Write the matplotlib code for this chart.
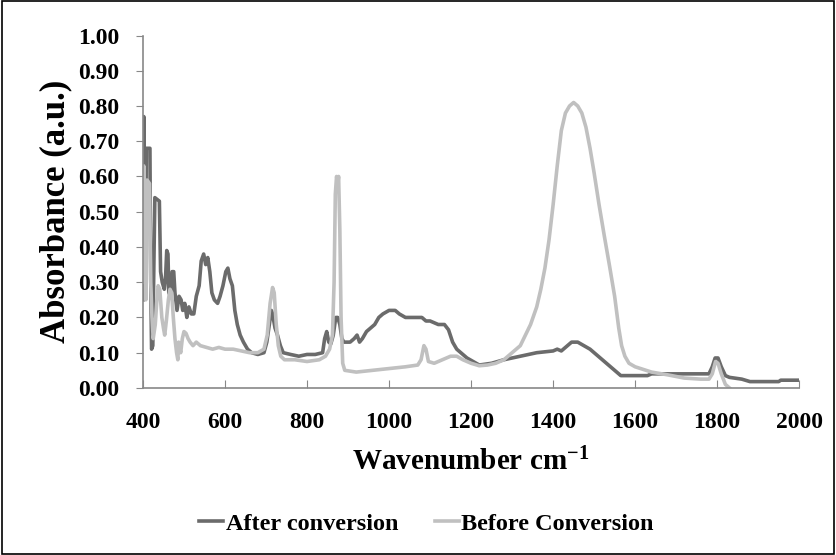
import matplotlib
matplotlib.use("Agg")
import matplotlib.pyplot as plt
import matplotlib.patches as patches

plt.rcParams['font.family'] = 'Liberation Serif'
plt.rcParams['font.weight'] = 'bold'
plt.rcParams['mathtext.fontset'] = 'custom'
plt.rcParams['mathtext.rm'] = 'Liberation Serif:bold'
plt.rcParams['mathtext.it'] = 'Liberation Serif:bold'
plt.rcParams['mathtext.bf'] = 'Liberation Serif:bold'

# FTIR spectrum after conversion (dark line)
after_x = [400, 401, 402, 404, 406, 407, 408, 417, 419, 421, 424, 426, 429, 440, 443,
           447, 452, 455, 458, 461, 463, 468, 471, 475, 478, 483, 488, 493, 497, 502,
           507, 512, 518, 524, 530, 537, 542, 548, 553, 558, 563, 568, 574, 582, 588,
           595, 602, 607, 612, 618, 624, 630, 637, 645, 655, 665, 680, 695, 702, 708,
           713, 716, 722, 728, 735, 742, 760, 780, 800, 820, 838, 843, 848, 853, 858,
           864, 870, 875, 880, 885, 890, 905, 915, 922, 928, 935, 945, 955, 965, 975,
           985, 1000, 1015, 1025, 1040, 1055, 1070, 1080, 1090, 1100, 1110, 1120, 1135,
           1145, 1155, 1165, 1175, 1190, 1205, 1220, 1250, 1280, 1320, 1360, 1400, 1410,
           1420, 1430, 1445, 1460, 1475, 1490, 1510, 1530, 1550, 1565, 1580, 1630, 1640,
           1700, 1780, 1788, 1795, 1802, 1810, 1820, 1830, 1860, 1880, 1950, 1955, 2000]
after_y = [0.25, 0.32, 0.77, 0.55, 0.30, 0.26, 0.68, 0.68, 0.30, 0.11, 0.12, 0.30, 0.54, 0.53, 0.33,
           0.30, 0.28, 0.31, 0.39, 0.38, 0.27, 0.26, 0.33, 0.33, 0.27, 0.22, 0.26, 0.25, 0.22, 0.24,
           0.20, 0.23, 0.21, 0.21, 0.26, 0.29, 0.36, 0.38, 0.35, 0.37, 0.33, 0.27, 0.25, 0.24, 0.26,
           0.29, 0.33, 0.34, 0.31, 0.29, 0.22, 0.18, 0.15, 0.13, 0.11, 0.10, 0.095, 0.10, 0.13, 0.18,
           0.22, 0.21, 0.17, 0.15, 0.12, 0.10, 0.095, 0.09, 0.095, 0.095, 0.10, 0.14, 0.16, 0.13, 0.125,
           0.15, 0.20, 0.20, 0.18, 0.14, 0.13, 0.13, 0.14, 0.15, 0.13, 0.14, 0.16, 0.17, 0.18, 0.20,
           0.21, 0.22, 0.22, 0.21, 0.20, 0.20, 0.20, 0.20, 0.19, 0.19, 0.185, 0.18, 0.18,
           0.165, 0.13, 0.11, 0.10, 0.085, 0.075, 0.065, 0.07, 0.08, 0.09, 0.10, 0.105, 0.11,
           0.105, 0.115, 0.13, 0.13, 0.12, 0.11, 0.09, 0.07, 0.05, 0.035, 0.035, 0.035, 0.04,
           0.04, 0.04, 0.06, 0.085, 0.085, 0.06, 0.035, 0.03, 0.025, 0.018, 0.018, 0.022, 0.022]

# FTIR spectrum before conversion (light line)
before_x = [400, 402, 405, 407, 410, 416, 419, 422, 425, 430, 434, 437, 441, 446, 450,
            453, 457, 462, 466, 470, 474, 478, 482, 485, 487, 492, 496, 500, 505, 510,
            515, 522, 530, 540, 555, 570, 585, 600, 620, 640, 660, 680, 695, 703, 710,
            716, 720, 725, 730, 736, 745, 770, 800, 830, 845, 855, 862, 866, 869, 872,
            875, 877, 880, 883, 887, 892, 920, 960, 1000, 1040, 1070, 1078, 1085, 1090,
            1096, 1110, 1130, 1150, 1165, 1180, 1200, 1220, 1240, 1260, 1280, 1300, 1320,
            1345, 1360, 1370, 1380, 1390, 1400, 1410, 1420, 1430, 1440, 1450, 1460, 1470,
            1480, 1490, 1500, 1512, 1525, 1537, 1550, 1560, 1567, 1575, 1585, 1600, 1640,
            1680, 1720, 1760, 1780, 1788, 1796, 1802, 1810, 1820, 1830]
before_y = [0.30, 0.63, 0.40, 0.25, 0.59, 0.58, 0.30, 0.20, 0.14, 0.18, 0.25, 0.29, 0.28, 0.20, 0.17,
            0.15, 0.19, 0.25, 0.28, 0.27, 0.20, 0.14, 0.10, 0.08, 0.13, 0.10, 0.14, 0.16, 0.155, 0.14,
            0.13, 0.12, 0.13, 0.12, 0.115, 0.11, 0.115, 0.11, 0.11, 0.105, 0.10, 0.10, 0.11, 0.15, 0.24,
            0.285, 0.27, 0.18, 0.12, 0.09, 0.08, 0.08, 0.075, 0.08, 0.09, 0.11, 0.15, 0.30, 0.55, 0.60,
            0.58, 0.60, 0.45, 0.20, 0.07, 0.05, 0.045, 0.05, 0.055, 0.06, 0.065, 0.08, 0.12, 0.11,
            0.075, 0.07, 0.08, 0.09, 0.09, 0.08, 0.07, 0.063, 0.065, 0.07, 0.08, 0.10, 0.12,
            0.18, 0.23, 0.28, 0.34, 0.42, 0.52, 0.63, 0.73, 0.78, 0.80, 0.81, 0.80, 0.78,
            0.74, 0.68, 0.61, 0.52, 0.43, 0.35, 0.26, 0.17, 0.12, 0.09, 0.07, 0.06, 0.045,
            0.037, 0.028, 0.025, 0.025, 0.04, 0.075, 0.07, 0.04, 0.01, 0.0]

x_ticks = [400, 600, 800, 1000, 1200, 1400, 1600, 1800, 2000]
y_ticks = [0.0, 0.1, 0.2, 0.3, 0.4, 0.5, 0.6, 0.7, 0.8, 0.9, 1.0]

fig = plt.figure(figsize=(8.36, 5.55), dpi=100)
ax = fig.add_axes([0.171, 0.301, 0.785, 0.635])

ax.plot(after_x, after_y, color='#6b6b6b', lw=2.6, label='After conversion')
ax.plot(before_x, before_y, color='#c0c0c0', lw=2.6, label='Before Conversion')

ax.set_xlim(400, 2000)
ax.set_ylim(0, 1.0)
ax.set_xticks(x_ticks)
ax.set_yticks(y_ticks)
ax.set_yticklabels([f'{v:.2f}' for v in y_ticks])
ax.tick_params(axis='x', direction='in', length=6, color='#888888', labelsize=17, pad=17)
ax.tick_params(axis='y', direction='out', length=5, color='#888888', labelsize=17, pad=12)

for side in ['top', 'right']:
    ax.spines[side].set_visible(False)
for side in ['left', 'bottom']:
    ax.spines[side].set_color('#888888')
    ax.spines[side].set_linewidth(1.2)

ax.set_xlabel('Wavenumber cm$^{-1}$', fontsize=21, fontweight='bold', labelpad=11)
ax.set_ylabel('Absorbance (a.u.)', fontsize=25, fontweight='bold', labelpad=4)

fig.legend(loc='center', bbox_to_anchor=(0.51, 0.056), ncol=2, frameon=False,
           prop={'family': 'Liberation Serif', 'weight': 'bold', 'size': 17.5},
           handlelength=1.0, handletextpad=0.1, columnspacing=1.5)

# outer border around the chart area
fig.patches.append(patches.Rectangle((0.002, 0.002), 0.996, 0.996, transform=fig.transFigure,
                                     fill=False, edgecolor='black', linewidth=1.2))

fig.savefig('out.png', dpi=100)
